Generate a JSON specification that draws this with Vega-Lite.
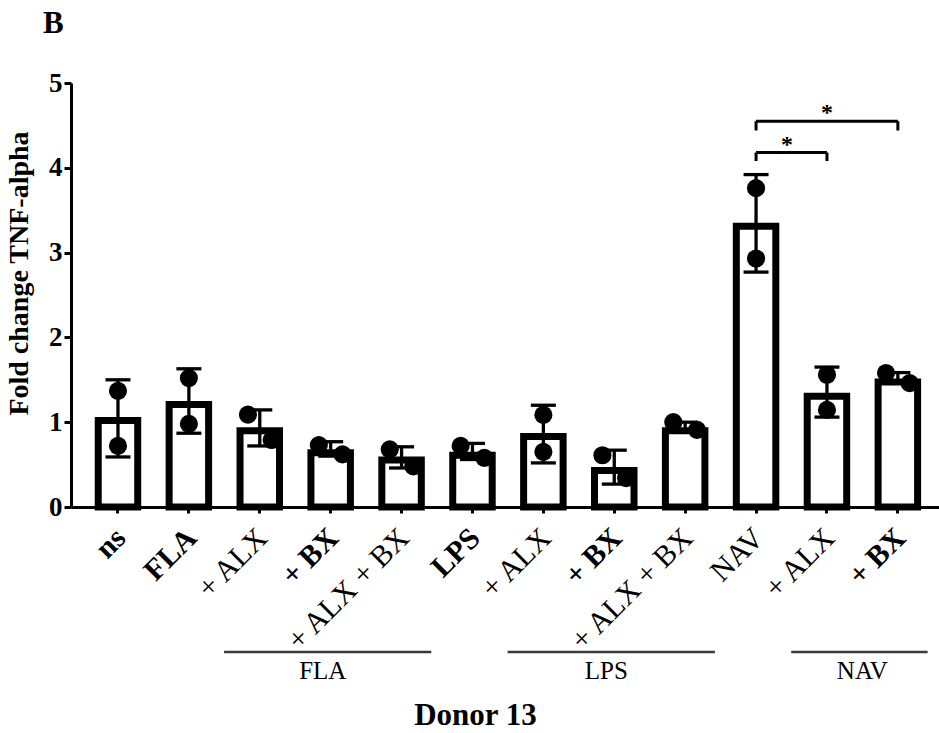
{
  "$schema": "https://vega.github.io/schema/vega-lite/v6.json",
  "width": 868,
  "height": 424,
  "autosize": {"type": "none"},
  "padding": {"left": 71, "top": 83, "right": 0, "bottom": 226},
  "background": "white",
  "title": {"text": "B", "anchor": "start", "frame": "group", "font": "Liberation Serif", "fontSize": 31, "fontWeight": "bold", "color": "black", "dx": -28, "offset": 29},
  "config": {"view": {"stroke": null}},
  "datasets": {
    "bars": [
      {"k": "ns", "v": 1.02, "lo": 0.59, "hi": 1.5},
      {"k": "FLA", "v": 1.21, "lo": 0.87, "hi": 1.63},
      {"k": "FLA_ALX", "v": 0.9, "lo": 0.72, "hi": 1.145},
      {"k": "FLA_BX", "v": 0.64, "lo": 0.6, "hi": 0.77},
      {"k": "FLA_ALXBX", "v": 0.555, "lo": 0.46, "hi": 0.71},
      {"k": "LPS", "v": 0.61, "lo": 0.56, "hi": 0.75},
      {"k": "LPS_ALX", "v": 0.83, "lo": 0.52, "hi": 1.2},
      {"k": "LPS_BX", "v": 0.43, "lo": 0.27, "hi": 0.67},
      {"k": "LPS_ALXBX", "v": 0.9, "lo": 0.91, "hi": 1.0},
      {"k": "NAV", "v": 3.31, "lo": 2.77, "hi": 3.92},
      {"k": "NAV_ALX", "v": 1.305, "lo": 1.06, "hi": 1.65},
      {"k": "NAV_BX", "v": 1.475, "lo": 1.46, "hi": 1.585}
    ],
    "dots": [
      {"k": "ns", "v": 1.37, "side": "C"}, {"k": "ns", "v": 0.72, "side": "C"},
      {"k": "FLA", "v": 1.52, "side": "C"}, {"k": "FLA", "v": 0.98, "side": "C"},
      {"k": "FLA_ALX", "v": 1.09, "side": "L"}, {"k": "FLA_ALX", "v": 0.79, "side": "R"},
      {"k": "FLA_BX", "v": 0.73, "side": "L"}, {"k": "FLA_BX", "v": 0.62, "side": "R"},
      {"k": "FLA_ALXBX", "v": 0.68, "side": "L"}, {"k": "FLA_ALXBX", "v": 0.48, "side": "R"},
      {"k": "LPS", "v": 0.72, "side": "L"}, {"k": "LPS", "v": 0.58, "side": "R"},
      {"k": "LPS_ALX", "v": 1.086, "side": "C"}, {"k": "LPS_ALX", "v": 0.65, "side": "C"},
      {"k": "LPS_BX", "v": 0.61, "side": "L"}, {"k": "LPS_BX", "v": 0.34, "side": "R"},
      {"k": "LPS_ALXBX", "v": 1.0, "side": "L"}, {"k": "LPS_ALXBX", "v": 0.91, "side": "R"},
      {"k": "NAV", "v": 3.76, "side": "C"}, {"k": "NAV", "v": 2.93, "side": "C"},
      {"k": "NAV_ALX", "v": 1.56, "side": "C"}, {"k": "NAV_ALX", "v": 1.145, "side": "C"},
      {"k": "NAV_BX", "v": 1.58, "side": "L"}, {"k": "NAV_BX", "v": 1.46, "side": "R"}
    ],
    "brackets": [
      {"k": "NAV", "k2": "NAV_ALX", "v": 4.18, "vl": 4.08},
      {"k": "NAV", "k2": "NAV_BX", "v": 4.55, "vl": 4.44}
    ],
    "groups": [
      {"k": "FLA_ALX", "k2": "FLA_ALXBX", "c": "FLA_BX", "g": "FLA"},
      {"k": "LPS_ALX", "k2": "LPS_ALXBX", "c": "LPS_BX", "g": "LPS"},
      {"k": "NAV_ALX", "k2": "NAV_BX", "c": "NAV_BX", "g": "NAV"}
    ]
  },
  "layer": [
    {
      "data": {"name": "bars"},
      "mark": {"type": "bar", "fill": "white", "stroke": "black", "strokeWidth": 7},
      "encoding": {
        "x": {
          "field": "k", "type": "nominal",
          "scale": {"domain": ["ns", "FLA", "FLA_ALX", "FLA_BX", "FLA_ALXBX", "LPS", "LPS_ALX", "LPS_BX", "LPS_ALXBX", "NAV", "NAV_ALX", "NAV_BX"], "paddingInner": 0.443, "paddingOuter": 0.343, "align": 0.56},
          "axis": {
            "title": "Donor 13",
            "labelExpr": "indexof(datum.value,'_ALXBX')>=0 ? '+ ALX + BX' : indexof(datum.value,'_ALX')>=0 ? '+ ALX' : indexof(datum.value,'_BX')>=0 ? '+ BX' : datum.value",
            "labelAngle": -45, "labelAlign": "right", "labelBaseline": "middle", "labelPadding": 20, "labelOffset": 3,
            "labelFont": "Liberation Serif", "labelFontSize": 30, "labelColor": "black",
            "labelFontWeight": {"condition": {"test": "indexof(datum.value,'ALX')>=0 || datum.value=='NAV'", "value": "normal"}, "value": "bold"},
            "tickSize": 6, "tickWidth": 3, "tickColor": "black", "domainWidth": 3, "domainColor": "black",
            "titleFont": "Liberation Serif", "titleFontSize": 31, "titleFontWeight": "bold", "titleColor": "black",
            "titleX": 404, "titleY": 217, "titleBaseline": "alphabetic", "titleAlign": "center"
          }
        },
        "y": {
          "field": "v", "type": "quantitative",
          "scale": {"domain": [0, 5], "nice": false},
          "axis": {
            "title": "Fold change TNF-alpha", "values": [0, 1, 2, 3, 4, 5], "format": "d", "grid": false,
            "labelFont": "Liberation Serif", "labelFontSize": 27, "labelFontWeight": "bold", "labelColor": "black", "labelPadding": 2,
            "tickSize": 7, "tickWidth": 3, "tickColor": "black", "domainWidth": 3, "domainColor": "black",
            "titleFont": "Liberation Serif", "titleFontSize": 28, "titleFontWeight": "bold", "titleColor": "black",
            "titleX": -38, "titleY": 190, "titleBaseline": "bottom", "titleAlign": "center", "titleAngle": -90
          }
        }
      }
    },
    {
      "data": {"name": "bars"},
      "mark": {"type": "rule", "color": "black", "strokeWidth": 3.3, "opacity": 1},
      "encoding": {
        "x": {"field": "k", "type": "nominal"},
        "y": {"field": "lo", "type": "quantitative"},
        "y2": {"field": "hi"}
      }
    },
    {
      "data": {"name": "bars"},
      "mark": {"type": "tick", "color": "black", "size": 25, "thickness": 3.3, "opacity": 1},
      "encoding": {
        "x": {"field": "k", "type": "nominal"},
        "y": {"field": "hi", "type": "quantitative"}
      }
    },
    {
      "data": {"name": "bars"},
      "mark": {"type": "tick", "color": "black", "size": 25, "thickness": 3.3, "opacity": 1},
      "encoding": {
        "x": {"field": "k", "type": "nominal"},
        "y": {"field": "lo", "type": "quantitative"}
      }
    },
    {
      "data": {"name": "dots"},
      "transform": [{"filter": "datum.side == 'C'"}],
      "mark": {"type": "point", "filled": true, "color": "black", "size": 330, "opacity": 1},
      "encoding": {
        "x": {"field": "k", "type": "nominal", "bandPosition": 0.5},
        "y": {"field": "v", "type": "quantitative"}
      }
    },
    {
      "data": {"name": "dots"},
      "transform": [{"filter": "datum.side == 'L'"}],
      "mark": {"type": "point", "filled": true, "color": "black", "size": 330, "opacity": 1},
      "encoding": {
        "x": {"field": "k", "type": "nominal", "bandPosition": 0.2},
        "y": {"field": "v", "type": "quantitative"}
      }
    },
    {
      "data": {"name": "dots"},
      "transform": [{"filter": "datum.side == 'R'"}],
      "mark": {"type": "point", "filled": true, "color": "black", "size": 330, "opacity": 1},
      "encoding": {
        "x": {"field": "k", "type": "nominal", "bandPosition": 0.8},
        "y": {"field": "v", "type": "quantitative"}
      }
    },
    {
      "data": {"name": "brackets"},
      "mark": {"type": "rule", "color": "black", "strokeWidth": 3},
      "encoding": {
        "x": {"field": "k", "type": "nominal"},
        "x2": {"field": "k2"},
        "y": {"field": "v", "type": "quantitative"}
      }
    },
    {
      "data": {"name": "brackets"},
      "mark": {"type": "rule", "color": "black", "strokeWidth": 3},
      "encoding": {
        "x": {"field": "k", "type": "nominal"},
        "y": {"field": "vl", "type": "quantitative"},
        "y2": {"field": "v"}
      }
    },
    {
      "data": {"name": "brackets"},
      "mark": {"type": "rule", "color": "black", "strokeWidth": 3},
      "encoding": {
        "x": {"field": "k2", "type": "nominal"},
        "y": {"field": "vl", "type": "quantitative"},
        "y2": {"field": "v"}
      }
    },
    {
      "data": {"values": [{"k": "NAV_ALX", "v": 4.18, "s": "*"}]},
      "mark": {"type": "text", "font": "Liberation Serif", "fontSize": 24, "fontWeight": "bold", "color": "black", "baseline": "alphabetic", "align": "center", "dy": -1},
      "encoding": {
        "x": {"field": "k", "type": "nominal", "bandPosition": -0.51},
        "y": {"field": "v", "type": "quantitative"},
        "text": {"field": "s"}
      }
    },
    {
      "data": {"values": [{"k": "NAV_ALX", "v": 4.55, "s": "*"}]},
      "mark": {"type": "text", "font": "Liberation Serif", "fontSize": 24, "fontWeight": "bold", "color": "black", "baseline": "alphabetic", "align": "center", "dy": -1},
      "encoding": {
        "x": {"field": "k", "type": "nominal", "bandPosition": 0.5},
        "y": {"field": "v", "type": "quantitative"},
        "text": {"field": "s"}
      }
    },
    {
      "data": {"name": "groups"},
      "mark": {"type": "rule", "color": "#3a3a3a", "strokeWidth": 2.5, "xOffset": -16, "x2Offset": 10},
      "encoding": {
        "x": {"field": "k", "type": "nominal", "bandPosition": 0},
        "x2": {"field": "k2", "bandPosition": 1},
        "y": {"datum": -1.71, "type": "quantitative"}
      }
    },
    {
      "data": {"name": "groups"},
      "transform": [{"filter": "datum.g != 'NAV'"}],
      "mark": {"type": "text", "font": "Liberation Serif", "fontSize": 25, "color": "black", "baseline": "alphabetic", "align": "center"},
      "encoding": {
        "x": {"field": "c", "type": "nominal", "bandPosition": 0.3},
        "y": {"datum": -2.03, "type": "quantitative"},
        "text": {"field": "g"}
      }
    },
    {
      "data": {"name": "groups"},
      "transform": [{"filter": "datum.g == 'NAV'"}],
      "mark": {"type": "text", "font": "Liberation Serif", "fontSize": 25, "color": "black", "baseline": "alphabetic", "align": "center"},
      "encoding": {
        "x": {"field": "c", "type": "nominal", "bandPosition": -0.4},
        "y": {"datum": -2.03, "type": "quantitative"},
        "text": {"field": "g"}
      }
    }
  ]
}
